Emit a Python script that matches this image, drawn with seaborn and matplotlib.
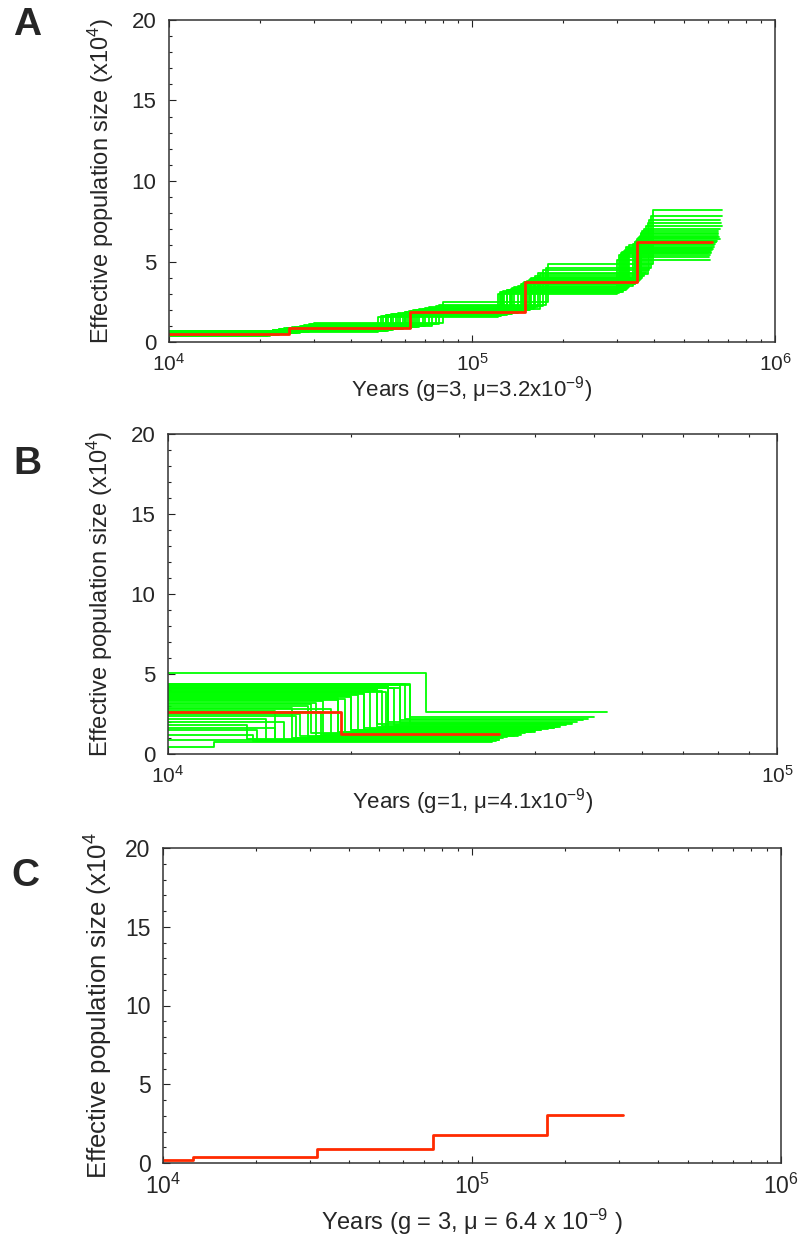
import pandas as pd
import matplotlib
matplotlib.use("Agg")
import matplotlib.pyplot as plt
import seaborn as sns
from matplotlib.ticker import MultipleLocator, NullFormatter, LogLocator

sns.set_style("ticks")
plt.rcParams['font.family'] = ['Liberation Sans', 'DejaVu Sans']
plt.rcParams['mathtext.fontset'] = 'custom'
plt.rcParams['mathtext.rm'] = 'Liberation Sans'
plt.rcParams['mathtext.it'] = 'Liberation Sans:italic'

GREEN = "#00ff00"
RED = "#ff2a00"

# ---- Panel A : bootstrap replicates (Ne in x10^4)
a_n1 = [0.52, 0.45, 0.60, 0.38, 0.55, 0.48, 0.66, 0.42, 0.58, 0.50, 0.35, 0.62, 0.47, 0.70, 0.53,
        0.40, 0.57, 0.44, 0.64, 0.49, 0.56, 0.37, 0.61, 0.51, 0.46, 0.68, 0.43, 0.59, 0.54, 0.41]
a_t1 = [2.4e4, 2.2e4, 2.6e4, 2.1e4, 2.5e4, 2.3e4, 2.8e4, 2.2e4, 2.7e4, 2.45e4, 2.0e4, 2.9e4, 2.35e4, 3.0e4, 2.55e4,
        2.15e4, 2.65e4, 2.25e4, 2.75e4, 2.4e4, 2.5e4, 2.1e4, 2.8e4, 2.45e4, 2.3e4, 2.95e4, 2.2e4, 2.6e4, 2.5e4, 2.15e4]
a_n2 = [0.85, 0.75, 0.95, 0.68, 0.90, 0.80, 1.05, 0.72, 0.98, 0.86, 0.62, 1.10, 0.78, 1.18, 0.92,
        0.70, 0.96, 0.76, 1.02, 0.83, 0.88, 0.66, 1.00, 0.87, 0.79, 1.12, 0.74, 0.94, 0.89, 0.71]
a_t2 = [6.0e4, 5.4e4, 6.6e4, 5.0e4, 6.3e4, 5.7e4, 7.2e4, 5.2e4, 6.9e4, 6.1e4, 4.9e4, 7.6e4, 5.6e4, 8.0e4, 6.4e4,
        5.3e4, 6.7e4, 5.5e4, 7.0e4, 5.9e4, 6.2e4, 5.1e4, 7.4e4, 6.0e4, 5.8e4, 7.8e4, 5.4e4, 6.5e4, 6.3e4, 5.2e4]
a_n3 = [1.85, 1.70, 2.00, 1.62, 1.95, 1.78, 2.15, 1.66, 2.05, 1.88, 1.58, 2.25, 1.75, 2.50, 1.97,
        1.68, 2.02, 1.73, 2.10, 1.82, 1.90, 1.64, 2.08, 1.87, 1.76, 2.30, 1.71, 1.99, 1.92, 1.67]
a_t3 = [1.45e5, 1.3e5, 1.55e5, 1.25e5, 1.5e5, 1.38e5, 1.65e5, 1.28e5, 1.6e5, 1.47e5, 1.22e5, 1.72e5, 1.35e5, 1.78e5, 1.52e5,
        1.27e5, 1.57e5, 1.33e5, 1.62e5, 1.42e5, 1.48e5, 1.24e5, 1.68e5, 1.46e5, 1.36e5, 1.75e5, 1.3e5, 1.54e5, 1.5e5, 1.26e5]
a_n4 = [3.60, 3.20, 3.90, 3.05, 3.75, 3.40, 4.30, 3.10, 4.00, 3.65, 3.00, 4.50, 3.30, 4.85, 3.80,
        3.15, 3.95, 3.25, 4.10, 3.50, 3.70, 3.08, 4.20, 3.62, 3.35, 4.60, 3.20, 3.85, 3.72, 3.12]
a_t4 = [3.45e5, 3.2e5, 3.6e5, 3.05e5, 3.5e5, 3.3e5, 3.75e5, 3.1e5, 3.65e5, 3.48e5, 3.0e5, 3.85e5, 3.25e5, 3.95e5, 3.55e5,
        3.12e5, 3.62e5, 3.22e5, 3.7e5, 3.4e5, 3.5e5, 3.08e5, 3.8e5, 3.46e5, 3.28e5, 3.9e5, 3.18e5, 3.58e5, 3.52e5, 3.15e5]
a_n5 = [6.20, 5.70, 6.70, 5.40, 6.40, 6.00, 7.20, 5.50, 6.90, 6.30, 5.10, 7.60, 5.80, 8.20, 6.50,
        5.60, 6.80, 5.90, 7.00, 6.10, 6.30, 5.30, 7.40, 6.20, 5.85, 7.80, 5.65, 6.60, 6.45, 5.50]
a_end = [6.4e5, 6.2e5, 6.5e5, 6.1e5, 6.6e5, 6.3e5, 6.7e5, 6.0e5, 6.5e5, 6.45e5, 6.1e5, 6.6e5, 6.25e5, 6.7e5, 6.55e5,
         6.15e5, 6.5e5, 6.3e5, 6.6e5, 6.35e5, 6.4e5, 6.05e5, 6.65e5, 6.4e5, 6.2e5, 6.7e5, 6.1e5, 6.5e5, 6.45e5, 6.15e5]
a_red_t = [1e4, 2.48e4, 6.26e4, 1.5e5, 3.5e5]
a_red_n = [0.52, 0.88, 1.88, 3.75, 6.2]
a_red_end = 6.2e5

# ---- Panel B
b_n1 = [4.20, 3.80, 4.40, 3.50, 4.00, 3.20, 2.90, 4.30, 3.60, 2.70, 4.10, 3.90, 3.30, 2.20, 1.80, 4.35, 3.70, 3.00, 1.50, 2.50,
        4.25, 3.45, 2.00, 1.20, 3.95, 4.15, 2.80, 3.10, 0.90, 5.05, 3.55, 4.05, 2.40, 3.75, 1.60, 4.30, 3.40, 2.60, 0.45, 3.85]
b_t1 = [2.3e4, 2.1e4, 2.5e4, 1.9e4, 2.2e4, 1.75e4, 1.6e4, 2.4e4, 2.0e4, 1.5e4, 2.35e4, 2.15e4, 1.8e4, 1.45e4, 1.35e4, 2.45e4, 2.05e4, 1.7e4, 1.4e4, 1.65e4,
        2.3e4, 1.95e4, 1.55e4, 1.38e4, 2.25e4, 2.4e4, 1.85e4, 1.72e4, 1.36e4, 2.65e4, 2.0e4, 2.2e4, 1.62e4, 2.1e4, 1.5e4, 2.5e4, 1.9e4, 1.78e4, 1.19e4, 2.28e4]
b_n2 = [1.60, 1.40, 1.90, 1.20, 1.70, 1.10, 1.00, 2.10, 1.50, 0.90, 1.80, 1.55, 1.25, 0.85, 0.95, 2.20, 1.45, 1.05, 0.80, 1.15,
        2.00, 1.35, 0.90, 0.82, 1.75, 1.95, 1.10, 1.30, 0.85, 2.60, 1.50, 1.85, 1.00, 1.65, 0.88, 2.30, 1.40, 1.20, 0.75, 1.70]
b_end = [4.3e4, 4.0e4, 4.6e4, 3.7e4, 4.4e4, 3.6e4, 3.5e4, 4.8e4, 4.1e4, 3.45e4, 4.5e4, 4.2e4, 3.8e4, 3.4e4, 3.5e4, 4.9e4, 4.0e4, 3.6e4, 3.45e4, 3.7e4,
         4.7e4, 3.9e4, 3.5e4, 3.4e4, 4.4e4, 4.6e4, 3.75e4, 3.85e4, 3.45e4, 5.25e4, 4.1e4, 4.5e4, 3.55e4, 4.3e4, 3.5e4, 5.0e4, 3.95e4, 3.8e4, 3.4e4, 4.35e4]
b_red_t = [1e4, 1.92e4]
b_red_n = [2.64, 1.24]
b_red_end = 3.49e4

# ---- Panel C (single estimate)
c_red_t = [1e4, 1.25e4, 3.14e4, 7.5e4, 1.75e5]
c_red_n = [0.20, 0.38, 0.87, 1.80, 3.03]
c_red_end = 3.08e5


def step_table(starts, levels, ends):
    rows = []
    for rep in range(len(ends)):
        for t, n in zip(starts[rep], levels[rep]):
            rows.append((rep, t, n))
        rows.append((rep, ends[rep], levels[rep][-1]))
    return pd.DataFrame(rows, columns=["rep", "years", "ne"])


a_boot = step_table([[1e4, a_t1[i], a_t2[i], a_t3[i], a_t4[i]] for i in range(len(a_end))],
                    [[a_n1[i], a_n2[i], a_n3[i], a_n4[i], a_n5[i]] for i in range(len(a_end))],
                    a_end)
b_boot = step_table([[1e4, b_t1[i]] for i in range(len(b_end))],
                    [[b_n1[i], b_n2[i]] for i in range(len(b_end))],
                    b_end)
a_main = step_table([a_red_t], [a_red_n], [a_red_end])
b_main = step_table([b_red_t], [b_red_n], [b_red_end])
c_main = step_table([c_red_t], [c_red_n], [c_red_end])

W, H = 801, 1245
fig = plt.figure(figsize=(W / 100, H / 100), dpi=100)


def make_axes(l, r, t, b):
    return fig.add_axes([l / W, 1 - b / H, (r - l) / W, (b - t) / H])


def style_axes(ax, xmax, ylab, xlab, ylab_size, xlab_size, ytick_size, xtick_size):
    ax.set_xscale('log')
    ax.set_xlim(1e4, xmax)
    ax.set_ylim(0, 20)
    ax.yaxis.set_major_locator(MultipleLocator(5))
    ax.yaxis.set_minor_locator(MultipleLocator(1))
    ax.xaxis.set_major_locator(LogLocator(base=10))
    ax.xaxis.set_minor_locator(LogLocator(base=10, subs=range(2, 10)))
    ax.xaxis.set_minor_formatter(NullFormatter())
    ax.tick_params(axis='both', which='both', direction='in', top=True, right=False,
                   width=0.8, color='#222222')
    ax.tick_params(axis='both', which='major', length=5)
    ax.tick_params(axis='both', which='minor', length=2.5)
    ax.tick_params(axis='y', labelsize=ytick_size, pad=9)
    ax.tick_params(axis='x', labelsize=xtick_size, pad=8)
    for s in ax.spines.values():
        s.set_visible(True)
        s.set_linewidth(1.1)
        s.set_color('#333333')
    ax.set_ylabel(ylab, fontsize=ylab_size)
    ax.set_xlabel(xlab, fontsize=xlab_size)


def draw_steps(ax, table, color, width):
    sns.lineplot(data=table, x="years", y="ne", units="rep", estimator=None, sort=False,
                 drawstyle="steps-post", color=color, lw=width, legend=False, ax=ax)


# panel A
axA = make_axes(169, 775, 20, 342)
axA.set_xscale('log')
draw_steps(axA, a_boot, GREEN, 1.3)
draw_steps(axA, a_main, RED, 2.0)
style_axes(axA, 1e6, "Effective population size (x10$^{4}$)", "Years (g=3, μ=3.2x10$^{-9}$)", 17, 16, 16, 15)
axA.yaxis.set_label_coords(-0.087, 0.5)
axA.xaxis.set_label_coords(0.5, -0.1)

# panel B
axB = make_axes(168, 777, 434, 754)
axB.set_xscale('log')
draw_steps(axB, b_boot, GREEN, 1.3)
draw_steps(axB, b_main, RED, 2.0)
style_axes(axB, 1e5, "Effective population size (x10$^{4}$)", "Years (g=1, μ=4.1x10$^{-9}$)", 17, 16, 16, 15)
axB.yaxis.set_label_coords(-0.087, 0.5)
axB.xaxis.set_label_coords(0.5, -0.1)

# panel C
axC = make_axes(163, 781, 848, 1163)
axC.set_xscale('log')
draw_steps(axC, c_main, RED, 2.0)
style_axes(axC, 1e6, "Effective population size (x10$^{4}$", "Years (g = 3, μ = 6.4 x 10$^{-9}$ )", 18.5, 17, 16.5, 16.5)
axC.yaxis.set_label_coords(-0.077, 0.5)
axC.xaxis.set_label_coords(0.5, -0.14)

fig.text(27 / W, 1 - 25 / H, "A", fontsize=28, fontweight='bold', ha='center', va='center')
fig.text(27 / W, 1 - 464 / H, "B", fontsize=28, fontweight='bold', ha='center', va='center')
fig.text(25 / W, 1 - 876 / H, "C", fontsize=28, fontweight='bold', ha='center', va='center')

fig.savefig("out.png", dpi=100)
